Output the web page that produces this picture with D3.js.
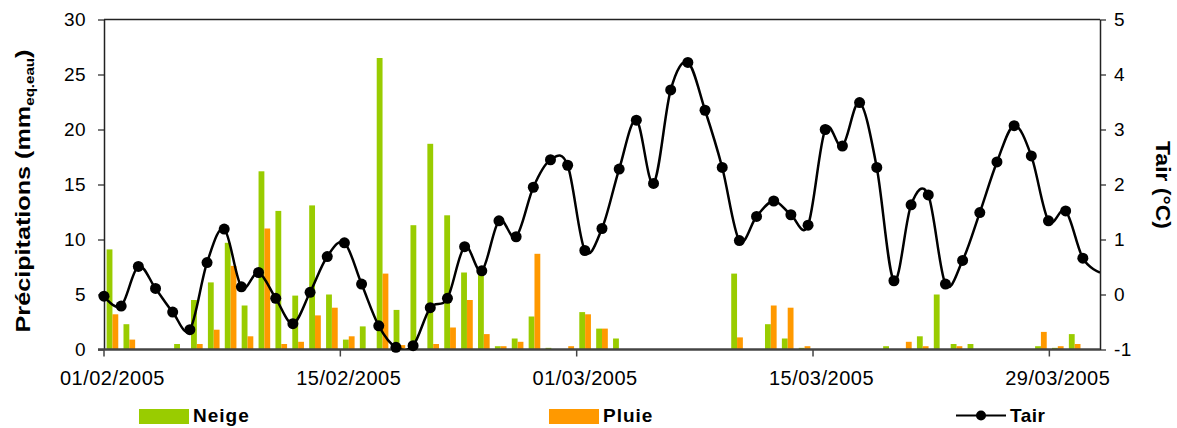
<!DOCTYPE html>
<html>
<head>
    <meta charset="utf-8">
    <script type="text/javascript" src="https://cdn.jsdelivr.net/npm/d3@7"></script>
    <style>
        body { margin: 0; background: #fff; }
        svg text { font-family: Arial, "Liberation Sans", sans-serif; fill: #000; }
    </style>
</head>
<body>
    <div id="chart"></div>

    <script type="text/javascript">
    // one category per day, 01/02/2005 .. 31/03/2005
    var dates = d3.timeDay.range(new Date(2005, 1, 1), new Date(2005, 3, 1)).map(d3.timeFormat("%d/%m/%Y"));
    var tickDates = ["01/02/2005", "15/02/2005", "01/03/2005", "15/03/2005", "29/03/2005"];

    // precipitation, mm water equivalent
    var neige = [9.1, 2.3, 0, 0, 0.5, 4.5, 6.1, 9.7, 4.0, 16.2, 12.6, 4.9, 13.1, 5.0, 0.9, 2.1, 26.5, 3.6, 11.3, 18.7,
                 12.2, 7.0, 6.9, 0.3, 1.0, 3.0, 0.15, 0, 3.4, 1.9, 1.0, 0, 0, 0, 0, 0, 0, 6.9, 0, 2.3,
                 1.0, 0.15, 0, 0, 0, 0, 0.3, 0, 1.2, 5.0, 0.5, 0.5, 0, 0, 0, 0.3, 0.15, 1.4, 0];
    var pluie = [3.2, 0.9, 0, 0, 0, 0.5, 1.8, 7.6, 1.2, 11.0, 0.5, 0.7, 3.1, 3.8, 1.2, 0, 6.9, 0.4, 0, 0.5,
                 2.0, 4.5, 1.4, 0.3, 0.7, 8.7, 0, 0.3, 3.2, 1.9, 0, 0, 0, 0, 0, 0, 0, 1.1, 0, 4.0,
                 3.8, 0.3, 0, 0, 0, 0, 0, 0.7, 0.3, 0, 0.3, 0, 0, 0, 0, 1.6, 0.3, 0.5, 0];
    // air temperature, °C
    var tair = [-0.03, -0.21, 0.51, 0.11, -0.32, -0.64, 0.58, 1.19, 0.14, 0.40, -0.07, -0.53, 0.04, 0.69, 0.94, 0.19,
                -0.57, -0.96, -0.93, -0.24, -0.07, 0.87, 0.43, 1.34, 1.05, 1.95, 2.45, 2.35, 0.80, 1.20, 2.28, 3.17,
                2.02, 3.72, 4.22, 3.35, 2.31, 0.98, 1.42, 1.70, 1.45, 1.26, 3.00, 2.70, 3.49, 2.31, 0.25, 1.63,
                1.81, 0.19, 0.62, 1.49, 2.41, 3.07, 2.52, 1.34, 1.52, 0.66, 0.40];

    var precipTicks = [0, 5, 10, 15, 20, 25, 30];
    var tairTicks = [-1, 0, 1, 2, 3, 4, 5];

    var width = 1177, height = 428;
    var plotL = 104, plotR = 1100, plotT = 19.5, plotB = 349.5;
    var green = "#99cc00", orange = "#ff9900";

    var svg = d3.select("#chart").append("svg")
        .attr("width", width)
        .attr("height", height);

    var x = d3.scaleBand().domain(dates).range([plotL, plotR])
        .paddingInner(0.31).paddingOuter(0.155);
    var xSub = d3.scaleBand().domain(["neige", "pluie"]).range([0, x.bandwidth()]);
    var xLine = d3.scalePoint().domain(dates).range([plotL, plotR]);
    var y = d3.scaleLinear().domain([0, 30]).range([plotB, plotT]);
    var y2 = d3.scaleLinear().domain([-1, 5]).range([plotB, plotT]);

    svg.append("clipPath").attr("id", "plot")
        .append("rect").attr("x", plotL).attr("y", plotT).attr("width", plotR - plotL).attr("height", plotB - plotT);

    // bars
    var rows = dates.map(function(d, i) { return {date: d, neige: neige[i], pluie: pluie[i]}; });
    var groups = svg.append("g").selectAll("g").data(rows).enter().append("g")
        .attr("transform", function(d) { return "translate(" + x(d.date) + ",0)"; });
    groups.selectAll("rect")
        .data(function(d) { return [{k: "neige", v: d.neige}, {k: "pluie", v: d.pluie}]; })
        .enter().append("rect")
        .attr("x", function(d) { return xSub(d.k); })
        .attr("width", xSub.bandwidth())
        .attr("y", function(d) { return y(d.v); })
        .attr("height", function(d) { return plotB - y(d.v); })
        .style("fill", function(d) { return d.k === "neige" ? green : orange; });

    // frame + axes
    svg.append("line").attr("x1", plotL).attr("x2", plotR).attr("y1", plotT).attr("y2", plotT)
        .style("stroke", "#222").style("stroke-width", 1.5);

    var plain = function(d) { return String(d); };
    var yAxis = svg.append("g").attr("transform", "translate(" + plotL + ",0)")
        .call(d3.axisLeft(y).tickValues(precipTicks).tickFormat(plain).tickSize(6).tickPadding(12).tickSizeOuter(0));
    var y2Axis = svg.append("g").attr("transform", "translate(" + plotR + ",0)")
        .call(d3.axisRight(y2).tickValues(tairTicks).tickFormat(plain).tickSize(6).tickPadding(8).tickSizeOuter(0));
    [yAxis, y2Axis].forEach(function(a) {
        a.select(".domain").style("stroke", "#222").style("stroke-width", 1.5);
        a.selectAll(".tick line").style("stroke", "#222").style("stroke-width", 1.2);
        a.selectAll("text").style("font-size", "19px").style("letter-spacing", "0.4px").attr("font-family", null);
    });

    // x axis: labels centred on the day, ticks on day boundaries
    var xAxis = svg.append("g").attr("transform", "translate(0," + plotB + ")")
        .call(d3.axisBottom(x).tickValues(tickDates).tickSize(0).tickPadding(21));
    xAxis.select(".domain").remove();
    xAxis.selectAll("text").style("font-size", "20px").style("letter-spacing", "0.5px").attr("font-family", null);
    var offset = x.step() * x.paddingInner() / 2;
    svg.append("g").selectAll("line").data(tickDates).enter().append("line")
        .attr("x1", function(d) { return x(d) - offset; })
        .attr("x2", function(d) { return x(d) - offset; })
        .attr("y1", plotB).attr("y2", plotB + 7)
        .style("stroke", "#444").style("stroke-width", 1.5);
    svg.append("line").attr("x1", plotL - 6).attr("x2", plotR).attr("y1", plotB).attr("y2", plotB)
        .style("stroke", "#444").style("stroke-width", 2.5);

    // temperature line (smoothed)
    var line = d3.line()
        .x(function(d, i) { return xLine(dates[i]); })
        .y(function(d) { return y2(d); })
        .curve(d3.curveCardinal.tension(0));
    svg.append("path").datum(tair)
        .attr("clip-path", "url(#plot)")
        .attr("d", line)
        .style("fill", "none").style("stroke", "#000").style("stroke-width", 2.5);

    // markers, the last day falls on the axis and has none
    svg.append("g").selectAll("circle").data(tair.slice(0, tair.length - 1)).enter().append("circle")
        .attr("cx", function(d, i) { return xLine(dates[i]); })
        .attr("cy", function(d) { return y2(d); })
        .attr("r", 5.5)
        .style("fill", "#000");

    // axis titles (the source stretches them along their length)
    var t1 = svg.append("text")
        .attr("transform", "translate(30,191) rotate(-90) scale(1.26,1)")
        .attr("text-anchor", "middle")
        .style("font-size", "20px").style("font-weight", "bold");
    t1.append("tspan").text("Précipitations (mm");
    t1.append("tspan").text("eq.eau").style("font-size", "12px").attr("dy", 4);
    t1.append("tspan").text(")").attr("dy", -4);

    svg.append("text")
        .attr("transform", "translate(1156,185) rotate(90) scale(1.18,1)")
        .attr("text-anchor", "middle")
        .style("font-size", "19.5px").style("font-weight", "bold")
        .text("Tair (°C)");

    // legend
    var legend = [{name: "Neige", color: green, x: 139}, {name: "Pluie", color: orange, x: 549}];
    legend.forEach(function(l) {
        svg.append("rect").attr("x", l.x).attr("y", 409).attr("width", 50).attr("height", 15).style("fill", l.color);
        svg.append("text").attr("x", l.x + 54).attr("y", 422)
            .style("font-size", "19px").style("font-weight", "bold").style("letter-spacing", "1px").text(l.name);
    });
    svg.append("line").attr("x1", 956).attr("x2", 1006).attr("y1", 415.5).attr("y2", 415.5)
        .style("stroke", "#000").style("stroke-width", 2);
    svg.append("circle").attr("cx", 981).attr("cy", 415.5).attr("r", 5).style("fill", "#000");
    svg.append("text").attr("x", 1010).attr("y", 422)
        .style("font-size", "19px").style("font-weight", "bold").style("letter-spacing", "0.5px").text("Tair");
    </script>
</body>
</html>
